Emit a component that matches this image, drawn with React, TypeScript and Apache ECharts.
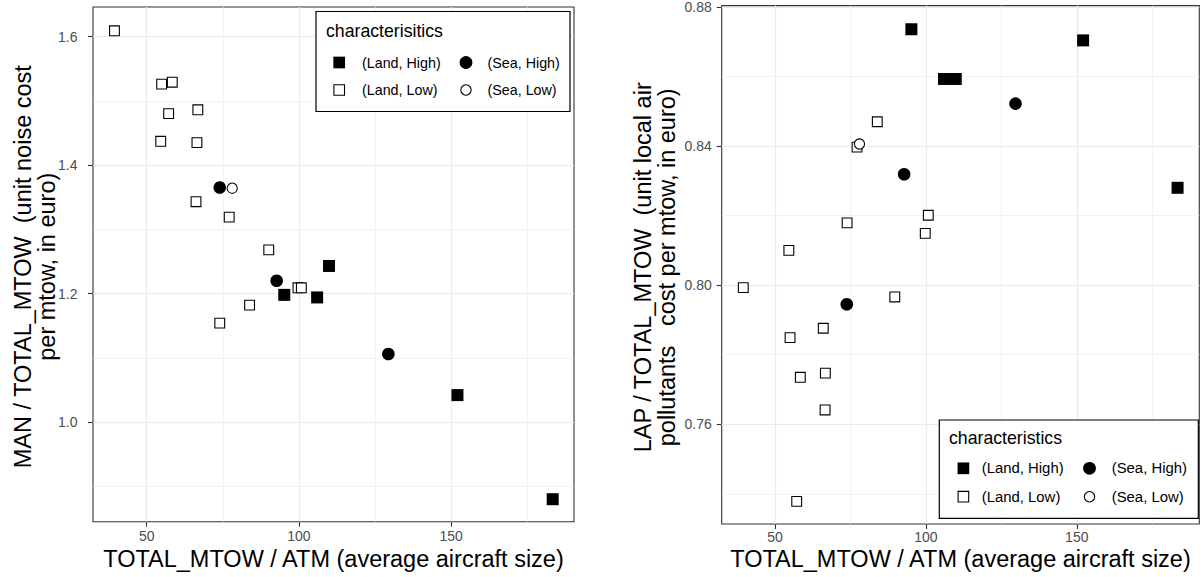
import React, { useEffect, useRef } from "react";
import * as echarts from "echarts";

const FONT = '"Liberation Sans", Arial, Helvetica, sans-serif';

// ---------- data: left panel (MAN / TOTAL_MTOW) ----------
const noiseLandHigh = [[95.2, 1.198], [106.0, 1.194], [109.9, 1.243], [152.1, 1.042], [183.4, 0.88]];
const noiseLandLow = [
  [39.4, 1.609], [54.9, 1.526], [58.4, 1.529], [57.2, 1.48], [66.8, 1.486], [54.6, 1.437], [66.5, 1.435],
  [66.2, 1.343], [77.1, 1.319], [90.1, 1.268], [99.7, 1.209], [100.8, 1.209], [74.0, 1.154], [83.8, 1.182],
];
const noiseSeaHigh = [[74.0, 1.365], [92.7, 1.22], [129.4, 1.106]];
const noiseSeaLow = [[78.1, 1.364]];

// ---------- data: right panel (LAP / TOTAL_MTOW) ----------
const lapLandHigh = [[95.2, 0.8736], [106.0, 0.8593], [109.9, 0.8593], [152.1, 0.8704], [183.4, 0.828]];
const lapLandLow = [
  [39.5, 0.7993], [54.6, 0.81], [55.0, 0.7849], [57.2, 0.7378], [58.4, 0.7735], [66.0, 0.7876], [66.7, 0.7747],
  [66.6, 0.7641], [73.9, 0.8179], [77.2, 0.8397], [83.9, 0.847], [89.7, 0.7966], [99.8, 0.8149], [100.8, 0.8201],
];
const lapSeaHigh = [[73.8, 0.7945], [92.8, 0.8319], [129.7, 0.8522]];
const lapSeaLow = [[78.0, 0.8406]];

// ---------- ticks ----------
const xTicks = [50, 100, 150];
const xMinor = [75, 125, 175];
const noiseYTicks = [1.0, 1.2, 1.4, 1.6];
const noiseYMinor = [0.9, 1.1, 1.3, 1.5];
const lapYTicks = [0.76, 0.8, 0.84, 0.88];
const lapYMinor = [0.74, 0.78, 0.82, 0.86];

const groups = ["(Land, High)", "(Land, Low)", "(Sea, High)", "(Sea, Low)"];

const xTitle = "TOTAL_MTOW / ATM (average aircraft size)";
const noiseYTitle = "MAN / TOTAL_MTOW  (unit noise cost\nper mtow, in euro)";
const lapYTitle = "LAP / TOTAL_MTOW  (unit local air\npollutants   cost per mtow, in euro)";
const noiseLegendTitle = "characterisitics";
const lapLegendTitle = "characteristics";

const styleFor: Record<string, any> = {
  "(Land, High)": { symbol: "rect", symbolSize: 12, itemStyle: { color: "#000", opacity: 1 } },
  "(Land, Low)": { symbol: "rect", symbolSize: 9.8, itemStyle: { color: "#fff", borderColor: "#000", borderWidth: 1.1, opacity: 1 } },
  "(Sea, High)": { symbol: "circle", symbolSize: 12.6, itemStyle: { color: "#000", opacity: 1 } },
  "(Sea, Low)": { symbol: "circle", symbolSize: 10.2, itemStyle: { color: "#fff", borderColor: "#000", borderWidth: 1.1, opacity: 1 } },
};

function scatter(name: string, data: number[][], idx: number) {
  const s = styleFor[name];
  return {
    type: "scatter",
    name,
    xAxisIndex: idx,
    yAxisIndex: idx,
    data,
    symbol: s.symbol,
    symbolSize: s.symbolSize,
    itemStyle: s.itemStyle,
    z: 3,
    silent: true,
    emphasis: { disabled: true },
  };
}

function gridLines(idx: number, xs: number[], xm: number[], ys: number[], ym: number[]) {
  const major = 1.2;
  const minor = 0.65;
  return {
    type: "scatter",
    xAxisIndex: idx,
    yAxisIndex: idx,
    data: [],
    silent: true,
    z: 1,
    markLine: {
      silent: true,
      z: 1,
      symbol: ["none", "none"],
      label: { show: false },
      emphasis: { disabled: true },
      animation: false,
      lineStyle: { color: "#EBEBEB", type: "solid", width: major },
      data: [
        ...xs.map((v) => ({ xAxis: v })),
        ...xm.map((v) => ({ xAxis: v, lineStyle: { color: "#EBEBEB", type: "solid", width: minor } })),
        ...ys.map((v) => ({ yAxis: v })),
        ...ym.map((v) => ({ yAxis: v, lineStyle: { color: "#EBEBEB", type: "solid", width: minor } })),
      ],
    },
  };
}

function xAxisCfg(idx: number, min: number, max: number, margin: number) {
  return {
    type: "value",
    gridIndex: idx,
    min,
    max,
    axisLine: { show: false },
    axisTick: { show: true, length: 5, lineStyle: { color: "#333", width: 1.1 }, customValues: xTicks },
    axisLabel: { customValues: xTicks, color: "#4D4D4D", fontSize: 14, fontFamily: FONT, margin },
    splitLine: { show: false },
    minorSplitLine: { show: false },
  };
}

function yAxisCfg(idx: number, min: number, max: number, ticks: number[], digits: number, margin: number) {
  return {
    type: "value",
    gridIndex: idx,
    min,
    max,
    axisLine: { show: false },
    axisTick: { show: true, length: 5, lineStyle: { color: "#333", width: 1.1 }, customValues: ticks },
    axisLabel: {
      customValues: ticks,
      color: "#4D4D4D",
      fontSize: 14,
      fontFamily: FONT,
      margin,
      formatter: (v: number) => v.toFixed(digits),
    },
    splitLine: { show: false },
  };
}

function legend(
  box: { x: number; y: number; w: number; h: number },
  title: string,
  titleX: number,
  titleY: number,
  rows: number[],
  col1Key: number,
  col1Text: number,
  col2Key: number,
  col2Text: number,
  fs: number
) {
  const txt = (text: string, x: number, y: number, size: number) => ({
    type: "text",
    x,
    y,
    z: 20,
    style: {
      text,
      fontSize: size,
      fontFamily: FONT,
      fill: "#000",
      align: "left",
      verticalAlign: "middle",
      textAlign: "left",
      textVerticalAlign: "middle",
    },
  });
  const sq = (cx: number, cy: number, s: number, filled: boolean) => ({
    type: "rect",
    z: 20,
    shape: { x: cx - s / 2, y: cy - s / 2, width: s, height: s },
    style: filled ? { fill: "#000" } : { fill: "#fff", stroke: "#000", lineWidth: 1.1 },
  });
  const ci = (cx: number, cy: number, r: number, filled: boolean) => ({
    type: "circle",
    z: 20,
    shape: { cx, cy, r },
    style: filled ? { fill: "#000" } : { fill: "#fff", stroke: "#000", lineWidth: 1.1 },
  });
  return [
    {
      type: "rect",
      z: 19,
      shape: { x: box.x, y: box.y, width: box.w, height: box.h },
      style: { fill: "#fff", stroke: "#000", lineWidth: 1.2 },
    },
    txt(title, titleX, titleY, 17.7),
    sq(col1Key, rows[0], 11.7, true),
    txt(groups[0], col1Text, rows[0], fs),
    ci(col2Key, rows[0], 6.4, true),
    txt(groups[2], col2Text, rows[0], fs),
    sq(col1Key, rows[1], 10.6, false),
    txt(groups[1], col1Text, rows[1], fs),
    ci(col2Key, rows[1], 5.2, false),
    txt(groups[3], col2Text, rows[1], fs),
  ];
}

function titleText(text: string, x: number, y: number, rotate: boolean) {
  return {
    type: "text",
    x,
    y,
    rotation: rotate ? Math.PI / 2 : 0,
    z: 10,
    style: {
      text,
      fontSize: 23.5,
      fontFamily: FONT,
      fill: "#000",
      lineHeight: 24,
      align: "center",
      verticalAlign: "middle",
      textAlign: "center",
      textVerticalAlign: "middle",
    },
  };
}

export default function App() {
  const ref = useRef<HTMLDivElement>(null);
  useEffect(() => {
    if (!ref.current) return;
    const chart = echarts.init(ref.current, undefined, { renderer: "svg" });
    const option: any = {
      animation: false,
      backgroundColor: "#fff",
      textStyle: { fontFamily: FONT },
      grid: [
        { left: 93, top: 7, width: 481, height: 514.7, show: true, borderColor: "#333", borderWidth: 1.1, backgroundColor: "transparent", containLabel: false },
        { left: 721.7, top: 5.3, width: 477.6, height: 518.7, show: true, borderColor: "#333", borderWidth: 1.1, backgroundColor: "transparent", containLabel: false },
      ],
      xAxis: [xAxisCfg(0, 32.35, 190.4, 7.5), xAxisCfg(1, 32.35, 190.6, 6)],
      yAxis: [
        yAxisCfg(0, 0.845, 1.646, noiseYTicks, 1, 15.5),
        yAxisCfg(1, 0.7313, 0.8804, lapYTicks, 2, 10),
      ],
      series: [
        gridLines(0, xTicks, xMinor, noiseYTicks, noiseYMinor),
        gridLines(1, xTicks, xMinor, lapYTicks, lapYMinor),
        scatter(groups[1], noiseLandLow, 0),
        scatter(groups[0], noiseLandHigh, 0),
        scatter(groups[2], noiseSeaHigh, 0),
        scatter(groups[3], noiseSeaLow, 0),
        scatter(groups[1], lapLandLow, 1),
        scatter(groups[0], lapLandHigh, 1),
        scatter(groups[2], lapSeaHigh, 1),
        scatter(groups[3], lapSeaLow, 1),
      ],
      graphic: [
        titleText(xTitle, 333.5, 558.5, false),
        titleText(xTitle, 960.5, 558.5, false),
        titleText(noiseYTitle, 35, 266.7, true),
        titleText(lapYTitle, 655, 267.3, true),
        ...legend({ x: 316, y: 11.5, w: 254, h: 100 }, noiseLegendTitle, 326, 30.5, [62.5, 90], 339.2, 362, 466, 487.5, 14.3),
        ...legend({ x: 939.3, y: 420, w: 259, h: 98.3 }, lapLegendTitle, 949, 437.7, [468.3, 496.7], 963.4, 981.7, 1089.5, 1111.7, 14.9),
      ],
    };
    chart.setOption(option);
    return () => chart.dispose();
  }, []);
  return (
    <div
      ref={ref}
      style={{ position: "fixed", left: 0, top: 0, width: 1203, height: 577, background: "#fff" }}
    />
  );
}
